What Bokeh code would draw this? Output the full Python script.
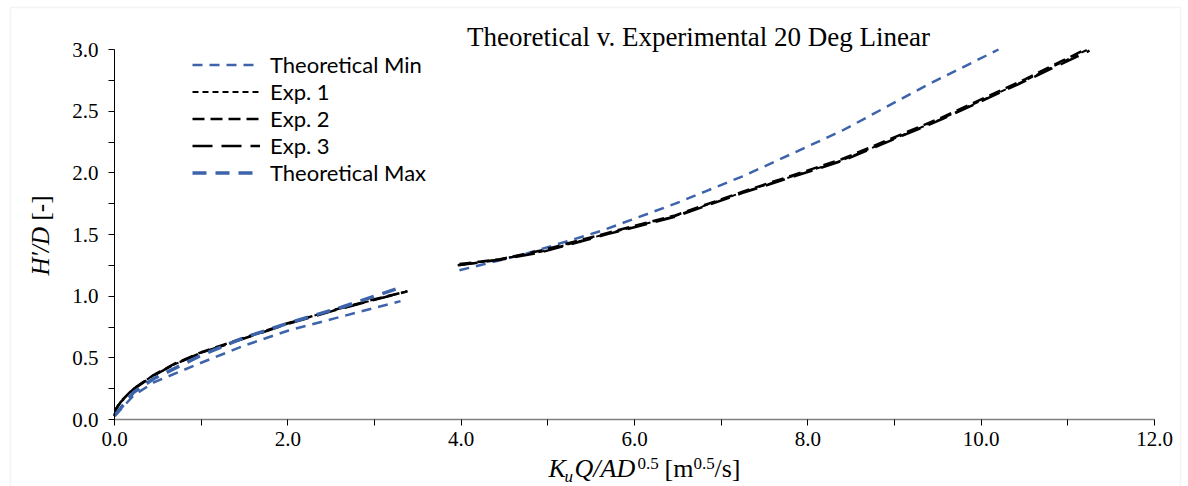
import numpy as np
from math import pi
from bokeh.plotting import figure
from bokeh.models import Label, Legend, LegendItem, FixedTicker, NumeralTickFormatter, Range1d, BoxAnnotation
from bokeh.embed import file_html
from bokeh.resources import INLINE

nan = float("nan")

# ---- data (NaN separates the two measured ranges) ----
theo_min_x = [0.0, 0.07, 0.22, 0.45, 1.0, 1.5, 2.0, 2.54, 3.3, nan,
              3.98, 4.73, 5.62, 6.47, 6.82, 7.24, 7.43, 8.39, 9.40, 10.2]
theo_min_y = [0.03, 0.08, 0.195, 0.30, 0.46, 0.60, 0.72, 0.82, 0.96, nan,
              1.21, 1.34, 1.53, 1.75, 1.85, 1.97, 2.03, 2.34, 2.72, 3.00]

exp1_x = [0.0, 0.02, 0.07, 0.22, 0.45, 0.7, 1.0, 1.38, 2.0, 2.54, 3.0, 3.38, nan,
          3.98, 4.45, 4.92, 5.70, 6.47, 7.24, 8.39, 9.55, 10.51, 11.23]
exp1_y = [0.03, 0.09, 0.14, 0.25, 0.36, 0.45, 0.54, 0.63, 0.78, 0.89, 0.97, 1.04, nan,
          1.25, 1.30, 1.36, 1.51, 1.65, 1.84, 2.10, 2.44, 2.75, 3.00]

exp2_x = [0.0, 0.02, 0.07, 0.22, 0.45, 0.7, 1.0, 1.38, 2.0, 2.54, 3.0, 3.38, nan,
          3.98, 4.45, 4.92, 5.70, 6.47, 7.24, 8.39, 9.55, 10.51, 11.20]
exp2_y = [0.03, 0.09, 0.145, 0.25, 0.36, 0.455, 0.545, 0.635, 0.78, 0.89, 0.975, 1.04, nan,
          1.26, 1.30, 1.37, 1.515, 1.655, 1.845, 2.11, 2.45, 2.76, 3.00]

exp3_x = [0.0, 0.02, 0.07, 0.22, 0.45, 0.7, 1.0, 1.38, 2.0, 2.54, 3.0, 3.36, nan,
          3.96, 4.45, 4.92, 5.70, 6.47, 7.24, 8.39, 9.55, 10.51, 11.25]
exp3_y = [0.03, 0.085, 0.14, 0.245, 0.355, 0.45, 0.54, 0.63, 0.775, 0.885, 0.97, 1.035, nan,
          1.25, 1.295, 1.355, 1.505, 1.645, 1.835, 2.095, 2.435, 2.745, 2.99]

theo_max_x = [0.0, 0.07, 0.22, 0.45, 1.0, 1.5, 2.0, 2.62, 3.32]
theo_max_y = [0.03, 0.09, 0.22, 0.33, 0.52, 0.665, 0.78, 0.91, 1.075]

x_ticks = [0, 2, 4, 6, 8, 10, 12]
x_minor = [1, 3, 5, 7, 9, 11]
y_ticks = [0.0, 0.5, 1.0, 1.5, 2.0, 2.5, 3.0]
y_minor = [0.25, 0.75, 1.25, 1.75, 2.25, 2.75]

title_text = "Theoretical v. Experimental 20 Deg Linear"

BLUE = "#3D64AB"
SERIF = "Liberation Serif"

# ---- layout (picture pixels) ----
W, H = 1182, 486
X0_PX, X12_PX = 114, 1154      # picture x of x=0 and x=12
Y0_PX, Y3_PX = 419, 49         # picture y of y=0 and y=3
sx = (X12_PX - X0_PX) / 12.0
sy = (Y0_PX - Y3_PX) / 3.0
x_lo = (0 - X0_PX) / sx
x_hi = (W - X0_PX) / sx
y_hi = (Y0_PX - 0) / sy
y_lo = (Y0_PX - H) / sy

def scr(px, py):
    return px, H - py

p = figure(width=W, height=H, output_backend="svg", toolbar_location=None,
           x_range=Range1d(x_lo, x_hi), y_range=Range1d(y_lo, y_hi), title=None,
           min_border=0)
p.outline_line_color = None
p.grid.visible = False
p.background_fill_color = "white"
p.border_fill_color = "white"

# light chart border
bl, bt = scr(10, 7)
br, bb = scr(1180, 490)
p.add_layout(BoxAnnotation(left=bl, right=br, top=bt, bottom=bb,
                           left_units="screen", right_units="screen",
                           top_units="screen", bottom_units="screen",
                           fill_alpha=0, line_color="#D9D9D9", line_width=1.5))

r_min = p.line(np.array(theo_min_x), np.array(theo_min_y), line_color=BLUE, line_width=2.5, line_dash="10 7")
r_e1 = p.line(np.array(exp1_x), np.array(exp1_y), line_color="black", line_width=2, line_dash="6 4")
r_e2 = p.line(np.array(exp2_x), np.array(exp2_y), line_color="black", line_width=2.5, line_dash="12 6")
r_e3 = p.line(np.array(exp3_x), np.array(exp3_y), line_color="black", line_width=2.5, line_dash="20 9")
r_max = p.line(np.array(theo_max_x), np.array(theo_max_y), line_color=BLUE, line_width=3.5, line_dash="14 9")

# axes, pinned at the data origin
xa = p.xaxis[0]
xa.fixed_location = 0
xa.bounds = (0, 12)
xa.ticker = FixedTicker(ticks=x_ticks, minor_ticks=x_minor)
xa.formatter = NumeralTickFormatter(format="0.0")
xa.axis_line_color = "#808080"
xa.axis_line_width = 1.5
xa.major_tick_line_color = "black"
xa.minor_tick_line_color = "black"
xa.major_tick_in = 0
xa.major_tick_out = 6
xa.minor_tick_in = 0
xa.minor_tick_out = 6
xa.major_label_standoff = 6
xa.major_label_text_font = SERIF
xa.major_label_text_font_size = "21px"
xa.major_label_text_color = "black"

ya = p.yaxis[0]
ya.fixed_location = 0
ya.bounds = (0, 3)
ya.ticker = FixedTicker(ticks=y_ticks, minor_ticks=y_minor)
ya.formatter = NumeralTickFormatter(format="0.0")
ya.axis_line_color = "black"
ya.axis_line_width = 1
ya.major_tick_line_color = "black"
ya.minor_tick_line_color = "black"
ya.major_tick_in = 0
ya.major_tick_out = 6
ya.minor_tick_in = 0
ya.minor_tick_out = 6
ya.major_label_standoff = 10
ya.major_label_text_font = SERIF
ya.major_label_text_font_size = "21px"
ya.major_label_text_color = "black"

# legend
lx, ly = scr(192, 186)
legend = Legend(items=[
    LegendItem(label="Theoretical Min", renderers=[r_min]),
    LegendItem(label="Exp. 1", renderers=[r_e1]),
    LegendItem(label="Exp. 2", renderers=[r_e2]),
    LegendItem(label="Exp. 3", renderers=[r_e3]),
    LegendItem(label="Theoretical Max", renderers=[r_max]),
], location=(lx, ly), glyph_width=68, glyph_height=27, label_height=27,
    label_standoff=10, spacing=0, padding=0, margin=0,
    border_line_alpha=0, background_fill_alpha=0,
    label_text_font="Lato", label_text_font_size="22px", label_text_color="black")
p.add_layout(legend)

def lab(text, px, py, size="26px", style="normal", **kw):
    x, y = scr(px, py)
    p.add_layout(Label(x=x, y=y, x_units="screen", y_units="screen", text=text,
                       text_font=SERIF, text_font_size=size, text_font_style=style,
                       text_color="black", text_baseline="middle", **kw))

# title
lab(title_text, 698, 36, size="27px", text_align="center")

# y axis label: H'/D [-]
lab("H\u2032/D", 40, 275, size="25px", style="italic", angle=pi / 2, text_align="left")
lab("[-]", 40, 220, size="25px", angle=pi / 2, text_align="left")

# x axis label: K_u Q/AD^0.5 [m^0.5/s]
MID = 468
lab("K", 548, MID, style="italic", text_align="left")
lab("u", 564, MID + 8, size="17px", style="italic", text_align="left")
lab("Q/AD", 574, MID, style="italic", text_align="left")
lab("0.5", 637, MID - 5, size="17px", text_align="left")
lab("[m", 664, MID, text_align="left")
lab("0.5", 693, MID - 5, size="17px", text_align="left")
lab("/s]", 714, MID, text_align="left")

open("out.html", "w").write(file_html(p, INLINE))
